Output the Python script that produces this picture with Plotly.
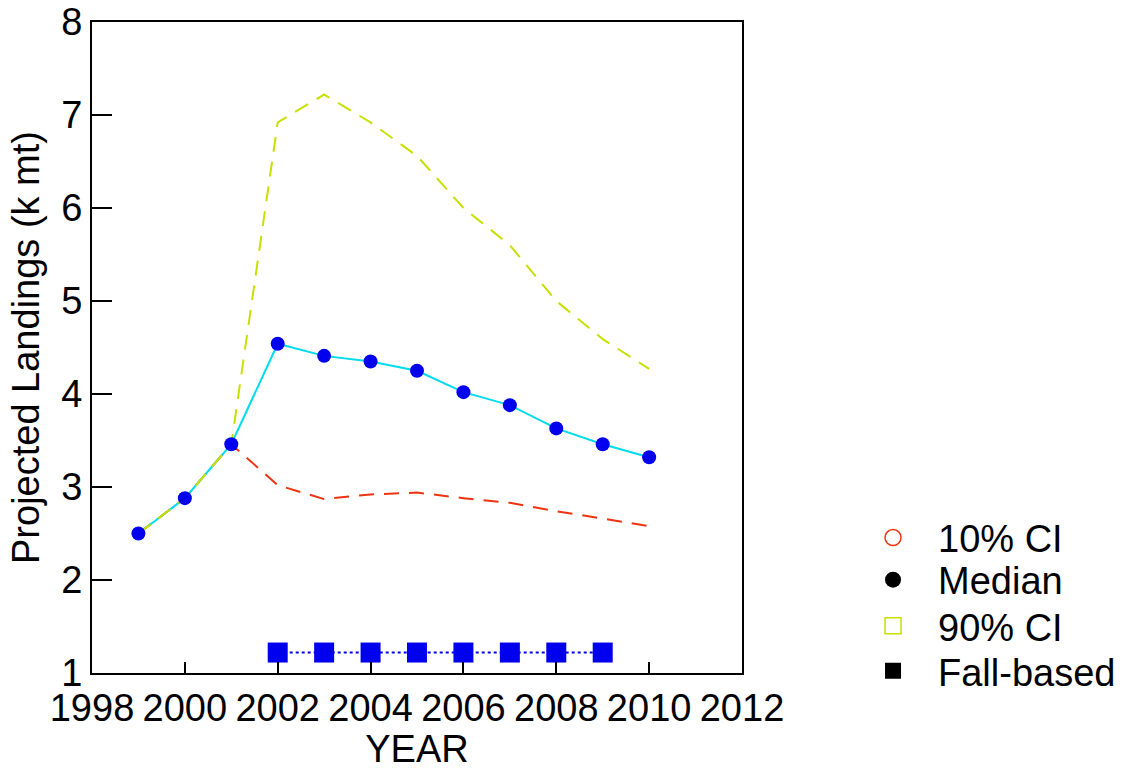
import plotly.graph_objects as go

years = [1999, 2000, 2001, 2002, 2003, 2004, 2005, 2006, 2007, 2008, 2009, 2010]
median = [2.50, 2.88, 3.46, 4.54, 4.41, 4.35, 4.25, 4.02, 3.88, 3.63, 3.46, 3.32]
ci10 = [2.50, 2.88, 3.46, 3.02, 2.87, 2.92, 2.94, 2.88, 2.83, 2.74, 2.66, 2.58]
ci90 = [2.50, 2.88, 3.46, 6.92, 7.22, 6.92, 6.56, 6.00, 5.60, 5.00, 4.59, 4.27]
fall_years = [2002, 2003, 2004, 2005, 2006, 2007, 2008, 2009]
fall_vals = [1.22, 1.22, 1.22, 1.22, 1.22, 1.22, 1.22, 1.22]

legend_names = ["10% CI", "Median", "90% CI", "Fall-based"]

FONT = "Liberation Sans, Arial, sans-serif"
FS = 38
RED = "#ee3311"
YEL = "#c8e000"
CYAN = "#00dcea"
BLUE = "#0000ee"

fig = go.Figure()

fig.add_trace(go.Scatter(x=years, y=ci10, mode="lines",
                         line=dict(color=RED, width=2, dash="15px,10px"),
                         showlegend=False))
fig.add_trace(go.Scatter(x=years, y=median, mode="lines",
                         line=dict(color=CYAN, width=2),
                         showlegend=False))
fig.add_trace(go.Scatter(x=years, y=ci90, mode="lines",
                         line=dict(color=YEL, width=2, dash="15px,10px"),
                         showlegend=False))
fig.add_trace(go.Scatter(x=years, y=median, mode="markers",
                         marker=dict(color=BLUE, size=14, symbol="circle"),
                         showlegend=False))
fig.add_trace(go.Scatter(x=fall_years, y=fall_vals, mode="lines+markers",
                         line=dict(color=BLUE, width=2, dash="dot"),
                         marker=dict(color=BLUE, size=20, symbol="square"),
                         showlegend=False))

# legend entries (marker only, as in the original), one legend box per entry
leg_markers = [
    dict(symbol="circle-open", size=18, color=RED, line=dict(color=RED, width=1.5)),
    dict(symbol="circle", size=18, color="black"),
    dict(symbol="square-open", size=17, color=YEL, line=dict(color=YEL, width=1.5)),
    dict(symbol="square", size=17, color="black"),
]
leg_refs = ["legend", "legend2", "legend3", "legend4"]
leg_y = [0.3015, 0.2468, 0.1870, 0.1286]
for name, mk, lref in zip(legend_names, leg_markers, leg_refs):
    fig.add_trace(go.Scatter(x=[None], y=[None], mode="markers", name=name,
                             marker=mk, legend=lref))

leg_common = dict(xref="container", yref="container",
                  xanchor="left", yanchor="middle", x=0.7538,
                  font=dict(family=FONT, size=FS, color="black"),
                  bgcolor="rgba(0,0,0,0)", itemwidth=80)

fig.update_layout(
    width=1125, height=770,
    margin=dict(l=92, r=383, t=22, b=97, autoexpand=False),
    paper_bgcolor="white", plot_bgcolor="white",
    font=dict(family=FONT, size=FS, color="black"),
    legend=dict(y=leg_y[0], **leg_common),
    legend2=dict(y=leg_y[1], **leg_common),
    legend3=dict(y=leg_y[2], **leg_common),
    legend4=dict(y=leg_y[3], **leg_common),
    xaxis=dict(range=[1998, 2012], tickvals=list(range(1998, 2013, 2)),
               showgrid=False, zeroline=False, showline=True, linecolor="black",
               linewidth=2, mirror=True, ticks="inside", ticklen=11, tickwidth=2,
               tickcolor="black", tickfont=dict(size=FS), automargin=False,
               title=dict(text="YEAR", font=dict(size=FS), standoff=14)),
    yaxis=dict(range=[1, 8], tickvals=list(range(1, 9)),
               showgrid=False, zeroline=False, showline=True, linecolor="black",
               linewidth=2, mirror=True, ticks="inside", ticklen=20, tickwidth=2,
               tickcolor="black", tickfont=dict(size=FS), automargin=False,
               title=dict(text="Projected Landings (k mt)", font=dict(size=FS), standoff=10)),
)

fig.write_html("out.html")
